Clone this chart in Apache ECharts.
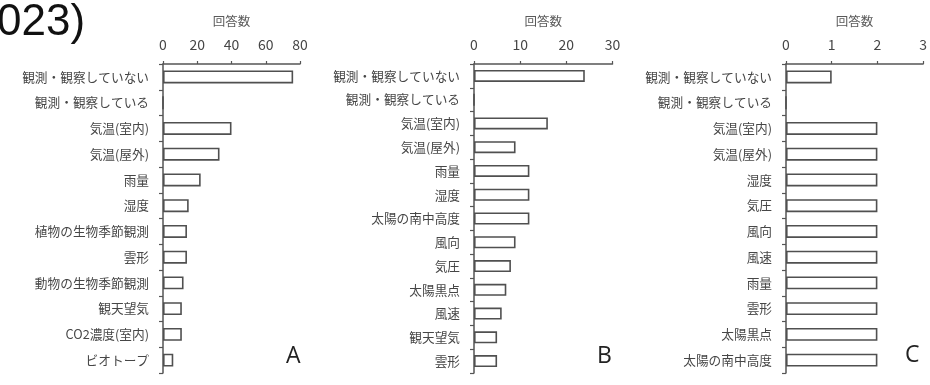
<!DOCTYPE html>
<html>
<head>
<meta charset="utf-8">
<script src="https://cdn.jsdelivr.net/npm/echarts@6/dist/echarts.min.js"></script>
<style>
  html, body { margin: 0; padding: 0; background: #fff; }
  #chart { width: 930px; height: 385px; }
</style>
</head>
<body>
<div id="chart"></div>
<script>
// Panel A
const categoriesA = ['観測・観察していない', '観測・観察している', '気温(室内)', '気温(屋外)', '雨量', '湿度',
  '植物の生物季節観測', '雲形', '動物の生物季節観測', '観天望気', 'CO2濃度(室内)', 'ビオトープ'];
const valuesA = [76, 0, 40, 33, 22, 15, 14, 14, 12, 11, 11, 6];

// Panel B
const categoriesB = ['観測・観察していない', '観測・観察している', '気温(室内)', '気温(屋外)', '雨量', '湿度',
  '太陽の南中高度', '風向', '気圧', '太陽黒点', '風速', '観天望気', '雲形'];
const valuesB = [24, 0, 16, 9, 12, 12, 12, 9, 8, 7, 6, 5, 5];

// Panel C
const categoriesC = ['観測・観察していない', '観測・観察している', '気温(室内)', '気温(屋外)', '湿度', '気圧',
  '風向', '風速', '雨量', '雲形', '太陽黒点', '太陽の南中高度'];
const valuesC = [1, 0, 2, 2, 2, 2, 2, 2, 2, 2, 2, 2];

// Value axis ranges and panel letters
const axisMax = [80, 30, 3];
const axisStep = [20, 10, 1];
const panelLetters = ['A', 'B', 'C'];
const axisName = '回答数';
const headline = '023)';

const JP = '"Noto Sans CJK JP", "Noto Sans", sans-serif';
const axisColor = '#555';
const textColor = '#464646';

const grids = [
  { left: 163, top: 64, width: 137, height: 309 },
  { left: 474, top: 64, width: 138.5, height: 309 },
  { left: 786, top: 64, width: 139, height: 309 }
];

const cats = [categoriesA, categoriesB, categoriesC];
const vals = [valuesA, valuesB, valuesC];

const chart = echarts.init(document.getElementById('chart'), null, { renderer: 'canvas' });

chart.setOption({
  animation: false,
  backgroundColor: '#fff',
  grid: grids,
  xAxis: grids.map((g, i) => ({
    type: 'value',
    gridIndex: i,
    position: 'top',
    min: 0,
    max: axisMax[i],
    interval: axisStep[i],
    name: axisName,
    nameLocation: 'middle',
    nameGap: 36,
    nameTextStyle: { fontFamily: JP, fontSize: 12.5, color: '#5a5a5a' },
    axisLine: { show: true, lineStyle: { color: axisColor, width: 1.5 } },
    axisTick: { show: true, length: 3, lineStyle: { color: axisColor, width: 1.2 } },
    axisLabel: { fontFamily: JP, fontSize: 14, color: textColor, margin: 12 },
    splitLine: { show: false }
  })),
  yAxis: grids.map((g, i) => ({
    type: 'category',
    gridIndex: i,
    inverse: true,
    data: cats[i],
    axisLine: { show: true, lineStyle: { color: axisColor, width: 1.5 } },
    axisTick: { show: true, length: 4, lineStyle: { color: axisColor, width: 1.2 } },
    axisLabel: { fontFamily: JP, fontSize: 12.7, color: textColor, margin: 14 }
  })),
  series: grids.map((g, i) => ({
    type: 'bar',
    xAxisIndex: i,
    yAxisIndex: i,
    data: vals[i],
    barWidth: i === 1 ? 12 : 13,
    itemStyle: { color: '#fff', borderColor: '#505050', borderWidth: 1.6 },
    silent: true
  })),
  graphic: [
    {
      type: 'text', left: -3, top: 1,
      style: { text: headline, fontFamily: '"Liberation Sans", Arial, sans-serif', fontSize: 44, fill: '#111' }
    },
    {
      type: 'text', left: 286, top: 345,
      style: { text: panelLetters[0], fontFamily: '"Open Sans", sans-serif', fontSize: 23, fill: '#222' }
    },
    {
      type: 'text', left: 597, top: 345,
      style: { text: panelLetters[1], fontFamily: '"Open Sans", sans-serif', fontSize: 23, fill: '#222' }
    },
    {
      type: 'text', left: 905, top: 344,
      style: { text: panelLetters[2], fontFamily: '"Open Sans", sans-serif', fontSize: 23, fill: '#222' }
    }
  ]
});
</script>
</body>
</html>
